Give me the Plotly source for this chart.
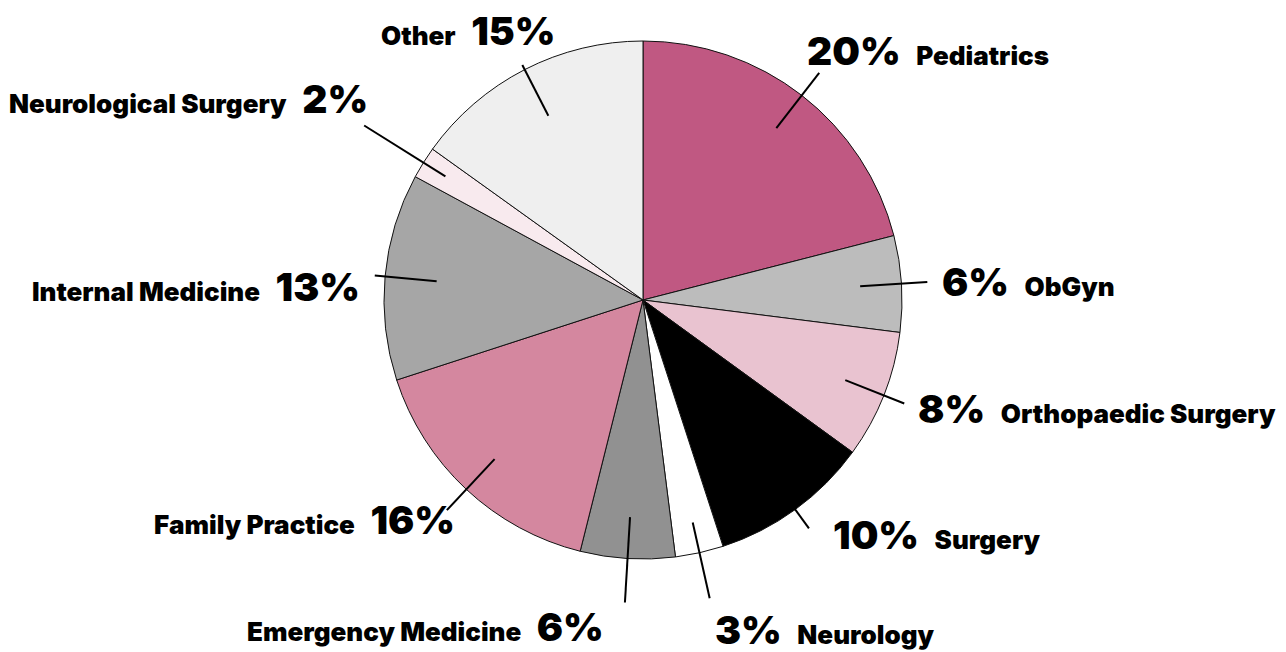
import math
import plotly.graph_objects as go

# ---- data ----
specialties = ["Pediatrics", "ObGyn", "Orthopaedic Surgery", "Surgery", "Neurology",
               "Emergency Medicine", "Family Practice", "Internal Medicine",
               "Neurological Surgery", "Other"]
shares = [21.0, 6.0, 8.0, 10.0, 3.0, 5.9, 16.1, 12.9, 2.0, 15.1]
label_pct = [20, 6, 8, 10, 3, 6, 16, 13, 2, 15]
colors = ["#c05882", "#bcbcbc", "#e9c3d0", "#000000", "#ffffff",
          "#919191", "#d4879f", "#a6a6a6", "#f8eaee", "#efefef"]

# ---- layout / style ----
W, H = 1286, 652
PAGE_OFFSET = 8                      # default body margin of the html page
CX, CY, R = 643 - PAGE_OFFSET, 300 - PAGE_OFFSET, 259
lead_in = [0.84, 0.84, 0.84, 0.84, 0.88, 0.84, 0.84, 0.80, 0.9, 0.80]
lead_out = [1.11, 1.10, 1.085, 1.09, 1.18, 1.17, 1.11, 1.04, 1.27, 1.02]
nudge_x = [-22, 0, 0, 14, 0, -18, 19, 0, 17, -48]
nudge_y = [-12, 0, 0, -4, -7, -14, 0, 12, -20, 3]
GAP = 13
PCT_SIZE = 39
NAME_SIZE = 26
FONT = "Inter"


def px(x):
    return x / W


def py(y):
    return 1 - y / H


fig = go.Figure(go.Pie(
    labels=specialties, values=shares, sort=False, direction="clockwise", rotation=0,
    marker=dict(colors=colors, line=dict(color="#111111", width=1)),
    textinfo="none", hoverinfo="label+percent", showlegend=False,
    domain=dict(x=[px(CX - R), px(CX + R)], y=[py(CY + R), py(CY - R)]),
))

total = sum(shares)
cum = 0.0
for i, (name, v, pct) in enumerate(zip(specialties, shares, label_pct)):
    mid = (cum + v / 2) / total * 2 * math.pi
    cum += v
    s, c = math.sin(mid), math.cos(mid)
    ri, ro = lead_in[i], lead_out[i]
    x0, y0 = CX + ri * R * s, CY - ri * R * c
    x1, y1 = CX + ro * R * s, CY - ro * R * c
    fig.add_shape(type="line", xref="paper", yref="paper",
                  x0=px(x0), y0=py(y0), x1=px(x1), y1=py(y1),
                  line=dict(color="black", width=2))
    tx = x1 + GAP * s + nudge_x[i]
    ty = y1 - GAP * c + nudge_y[i]
    right = s > 0
    if c > 0.85:
        yanchor = "bottom"
    elif c < -0.9:
        yanchor = "top"
    else:
        yanchor = "middle"
    xanchor = "left" if right else "right"
    if c > 0.85 and abs(s) < 0.5:
        xanchor = "center"
    pct_html = f"<span style='font-size:{PCT_SIZE}px'>{pct}%</span>"
    sp = "\u00a0\u00a0\u00a0"
    text = pct_html + sp + name if right else name + sp + pct_html
    fig.add_annotation(x=px(tx), y=py(ty), xref="paper", yref="paper", text=text,
                       showarrow=False, xanchor=xanchor, yanchor=yanchor,
                       font=dict(family=FONT, size=NAME_SIZE, color="black", weight=900))

fig.update_layout(width=W, height=H, margin=dict(l=0, r=0, t=0, b=0),
                  paper_bgcolor="white", plot_bgcolor="white")
fig.write_html("out.html")
